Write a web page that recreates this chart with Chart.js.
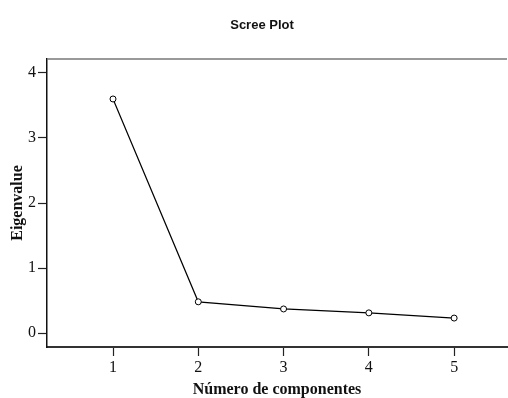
<!DOCTYPE html>
<html>
<head>
<meta charset="utf-8">
<script src="https://cdn.jsdelivr.net/npm/chart.js@4"></script>
<style>
  html, body { margin: 0; padding: 0; background: #fff; }
  #wrap { width: 508px; height: 398px; }
</style>
</head>
<body>
<div id="wrap"><canvas id="c" width="508" height="398"></canvas></div>
<script>
// Eigenvalues of the principal components
const components = [1, 2, 3, 4, 5];
const eigenvalues = [3.60, 0.48, 0.37, 0.31, 0.23];
const yTicks = [0, 1, 2, 3, 4];

const points = components.map((c, i) => ({ x: c, y: eigenvalues[i] }));

// Title and the top frame line of the plotting area
const frame = {
  id: 'frame',
  afterDraw(chart) {
    const ctx = chart.ctx, a = chart.chartArea;
    ctx.save();
    ctx.strokeStyle = '#777';
    ctx.lineWidth = 1.5;
    ctx.beginPath();
    ctx.moveTo(a.left, a.top);
    ctx.lineTo(a.right, a.top);
    ctx.stroke();
    ctx.fillStyle = '#111';
    ctx.font = 'bold 13px "Liberation Sans", Arial, sans-serif';
    ctx.textAlign = 'center';
    ctx.textBaseline = 'middle';
    ctx.fillText('Scree Plot', 262, 25);
    ctx.restore();
  }
};

const serif = '"Liberation Serif", "Times New Roman", serif';

new Chart(document.getElementById('c'), {
  type: 'line',
  data: {
    datasets: [{
      data: points,
      borderColor: '#000',
      borderWidth: 1.2,
      pointRadius: 3,
      pointBorderWidth: 1,
      pointBorderColor: '#000',
      pointBackgroundColor: '#fff',
      tension: 0
    }]
  },
  options: {
    responsive: false,
    animation: false,
    layout: { autoPadding: false, padding: { top: 59, right: 1, left: 0, bottom: 0 } },
    plugins: { legend: { display: false }, tooltip: { enabled: false } },
    scales: {
      x: {
        type: 'linear',
        min: 0.226,
        max: 5.62,
        afterBuildTicks(s) { s.ticks = components.map(v => ({ value: v })); },
        afterFit(s) { s.height = 51; },
        ticks: { color: '#111', font: { family: serif, size: 16 }, padding: 2 },
        grid: { drawOnChartArea: false, drawTicks: true, tickLength: 9, color: '#222', tickWidth: 1.2 },
        border: { display: true, color: '#333', width: 2 },
        title: {
          display: true, text: 'Número de componentes', color: '#111',
          font: { family: serif, size: 16, weight: 'bold' },
          padding: { top: 0, bottom: -1.5 }
        }
      },
      y: {
        type: 'linear',
        min: -0.215,
        max: 4.215,
        afterBuildTicks(s) { s.ticks = yTicks.map(v => ({ value: v })); },
        afterFit(s) { s.width = 47; },
        ticks: { color: '#111', font: { family: serif, size: 16 }, padding: 2 },
        grid: { drawOnChartArea: false, drawTicks: true, tickLength: 9, color: '#222', tickWidth: 1.2 },
        border: { display: true, color: '#111', width: 1.5 },
        title: {
          display: true, text: 'Eigenvalue', color: '#111',
          font: { family: serif, size: 16, weight: 'bold' },
          padding: { top: 8.4, bottom: 0 }
        }
      }
    }
  },
  plugins: [frame]
});
</script>
</body>
</html>
